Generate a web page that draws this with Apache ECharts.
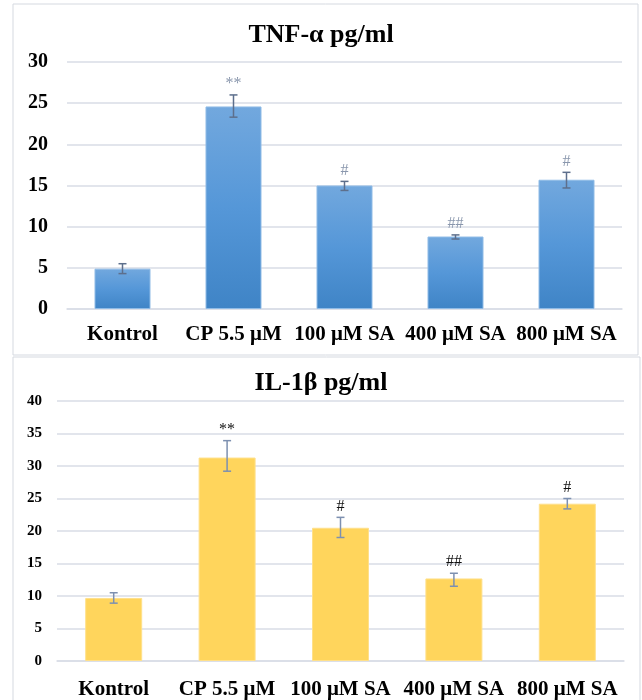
<!DOCTYPE html>
<html><head><meta charset="utf-8">
<script src="https://cdn.jsdelivr.net/npm/echarts@6/dist/echarts.min.js"></script>
<style>html,body{margin:0;padding:0;background:#fff}#c{width:642px;height:700px}</style>
</head><body><div id="c"></div>
<script>
const categories = ['Kontrol', 'CP 5.5 μM', '100 μM SA', '400 μM SA', '800 μM SA'];
const tnfValues = [4.9, 24.6, 15.0, 8.8, 15.7];
const tnfErrLow = [4.3, 23.3, 14.4, 8.5, 14.7];
const tnfErrHigh = [5.5, 26.0, 15.5, 9.0, 16.6];
const ilValues = [9.7, 31.3, 20.5, 12.7, 24.2];
const ilErrLow = [8.9, 29.2, 19.0, 11.5, 23.4];
const ilErrHigh = [10.5, 33.9, 22.1, 13.5, 25.0];
const marks = ['', '**', '#', '##', '#'];
const tnfTicks = [0, 5, 10, 15, 20, 25, 30];
const ilTicks = [0, 5, 10, 15, 20, 25, 30, 35, 40];

const serif = '"Liberation Serif", "Times New Roman", serif';
const chart = echarts.init(document.getElementById('c'));

function errSeries(xi, yi, low, high, color, markColor, markSize) {
  return {
    type: 'custom', xAxisIndex: xi, yAxisIndex: yi, z: 5,
    data: categories.map((c, i) => [i, low[i], high[i], marks[i]]),
    renderItem: function (params, api) {
      const lo = api.coord([api.value(0), api.value(1)]);
      const hi = api.coord([api.value(0), api.value(2)]);
      const x = lo[0], w = 4;
      const s = {stroke: color, lineWidth: 1.5};
      const children = [
        {type: 'line', shape: {x1: x, y1: lo[1], x2: x, y2: hi[1]}, style: s},
        {type: 'line', shape: {x1: x - w, y1: lo[1], x2: x + w, y2: lo[1]}, style: s},
        {type: 'line', shape: {x1: x - w, y1: hi[1], x2: x + w, y2: hi[1]}, style: s}
      ];
      const m = marks[params.dataIndex];
      if (m) children.push({type: 'text', x: x, y: hi[1] - 3, style: {
        text: m, fill: markColor, font: 'normal ' + markSize + 'px ' + serif,
        textAlign: 'center', textVerticalAlign: 'bottom'}});
      return {type: 'group', children: children};
    }
  };
}

const gridLine = {show: true, lineStyle: {color: '#d9dde6', width: 1.5}};

chart.setOption({
  animation: false,
  backgroundColor: '#fff',
  graphic: [
    {type: 'rect', shape: {x: 13, y: 4, width: 625, height: 351}, style: {fill: 'none', stroke: '#d5d9e0', lineWidth: 1}},
    {type: 'rect', shape: {x: 13, y: 357, width: 627, height: 350}, style: {fill: 'none', stroke: '#d5d9e0', lineWidth: 1}}
  ],
  title: [
    {text: 'TNF-α pg/ml', left: 'center', top: 17, textStyle: {fontFamily: serif, fontWeight: 'bold', fontSize: 26, color: '#000'}},
    {text: 'IL-1β pg/ml', left: 'center', top: 365, textStyle: {fontFamily: serif, fontWeight: 'bold', fontSize: 26, color: '#000'}}
  ],
  grid: [
    {left: 67, right: 20, top: 62, height: 247},
    {left: 57, right: 18, top: 401, height: 261}
  ],
  xAxis: [
    {type: 'category', gridIndex: 0, data: categories, axisTick: {show: false},
      axisLine: {lineStyle: {color: '#d9dde6', width: 1.5}},
      axisLabel: {fontFamily: serif, fontWeight: 'bold', fontSize: 21, color: '#000', margin: 15, interval: 0}},
    {type: 'category', gridIndex: 1, data: categories, axisTick: {show: false},
      axisLine: {lineStyle: {color: '#d9dde6', width: 1.5}},
      axisLabel: {fontFamily: serif, fontWeight: 'bold', fontSize: 21, color: '#000', margin: 18, interval: 0}}
  ],
  yAxis: [
    {type: 'value', gridIndex: 0, min: tnfTicks[0], max: tnfTicks[tnfTicks.length - 1], interval: 5,
      splitLine: gridLine, axisLine: {show: false}, axisTick: {show: false},
      axisLabel: {fontFamily: serif, fontWeight: 'bold', fontSize: 20, color: '#000', margin: 19}},
    {type: 'value', gridIndex: 1, min: ilTicks[0], max: ilTicks[ilTicks.length - 1], interval: 5,
      splitLine: gridLine, axisLine: {show: false}, axisTick: {show: false},
      axisLabel: {fontFamily: serif, fontWeight: 'bold', fontSize: 15, color: '#000', margin: 15}}
  ],
  series: [
    {type: 'bar', xAxisIndex: 0, yAxisIndex: 0, data: tnfValues, barWidth: 56,
      itemStyle: {color: new echarts.graphic.LinearGradient(0, 0, 0, 1, [
        {offset: 0, color: '#72a8de'}, {offset: 0.5, color: '#5597d8'}, {offset: 1, color: '#3f84c6'}]),
        borderColor: '#8fbbe6', borderWidth: 1}},
    {type: 'bar', xAxisIndex: 1, yAxisIndex: 1, data: ilValues, barWidth: 57,
      itemStyle: {color: '#ffd55c', borderColor: '#ffe08a', borderWidth: 1}},
    errSeries(0, 0, tnfErrLow, tnfErrHigh, '#5d6f8c', '#8a97ad', 16),
    errSeries(1, 1, ilErrLow, ilErrHigh, '#7d90b0', '#111', 16)
  ]
});
</script></body></html>
